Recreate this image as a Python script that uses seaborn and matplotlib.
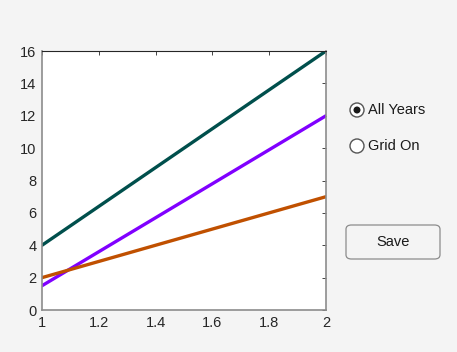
import matplotlib
matplotlib.use("Agg")
import matplotlib.pyplot as plt
import seaborn as sns
import pandas as pd
from matplotlib.patches import Circle, FancyBboxPatch
from matplotlib.transforms import IdentityTransform

# data
x_vals = [1, 2]
teal_vals = [4, 16]
purple_vals = [1.5, 12]
orange_vals = [2, 7]
series_names = ["teal", "purple", "orange"]
series_colors = ["#004f4c", "#8000ff", "#c05000"]
radio_labels = ["All Years", "Grid On"]
button_label = "Save"

df = pd.DataFrame({
    "x": x_vals * 3,
    "y": teal_vals + purple_vals + orange_vals,
    "series": [s for s in series_names for _ in x_vals],
})

sns.set_style("white")
plt.rcParams["font.family"] = ["Liberation Sans", "DejaVu Sans"]

bg = "#f4f4f4"
W, H = 457, 352
fig = plt.figure(figsize=(W / 100, H / 100), dpi=100, facecolor=bg)
ax = fig.add_axes([0.0919, 0.1193, 0.6214, 0.7358])
ax.set_facecolor("white")

sns.lineplot(data=df, x="x", y="y", hue="series", palette=series_colors,
             hue_order=series_names, linewidth=2.4, legend=False, ax=ax)

ax.set_xlim(1, 2)
ax.set_ylim(0, 16)
ax.set_xticks([1, 1.2, 1.4, 1.6, 1.8, 2])
ax.set_xticklabels(["1", "1.2", "1.4", "1.6", "1.8", "2"])
ax.set_yticks(range(0, 17, 2))
ax.set_xlabel("")
ax.set_ylabel("")
ax.tick_params(direction="in", length=3, width=0.6, colors="#262626",
               labelsize=10.5, top=True, right=True, pad=4)
for side in ["left", "bottom", "right"]:
    ax.spines[side].set_color("#8c8c8c")
    ax.spines[side].set_linewidth(1.2)
ax.spines["top"].set_color("#262626")
ax.spines["top"].set_linewidth(0.8)

# radio buttons (pixel coordinates)
radio_y = [110, 146]
for i, (lab, yy) in enumerate(zip(radio_labels, radio_y)):
    fig.patches.append(Circle((357, H - yy), 7, transform=IdentityTransform(),
                              facecolor="white", edgecolor="#555555", linewidth=1.0))
    if i == 0:
        fig.patches.append(Circle((357, H - yy), 3.5, transform=IdentityTransform(),
                                  facecolor="#1a1a1a", edgecolor="none"))
    fig.text(368 / W, 1 - yy / H, lab, fontsize=10.5, color="#1a1a1a",
             ha="left", va="center")

# Save button
btn = FancyBboxPatch((346 / W, 1 - 259 / H), 94 / W, 34 / H,
                     boxstyle="round,pad=0,rounding_size=0.012",
                     transform=fig.transFigure, facecolor=bg,
                     edgecolor="#8c8c8c", linewidth=0.9)
fig.patches.append(btn)
fig.text(393 / W, 1 - 241.5 / H, button_label, fontsize=10.5,
         color="#1a1a1a", ha="center", va="center")

fig.savefig("out.png", dpi=100, facecolor=bg)
